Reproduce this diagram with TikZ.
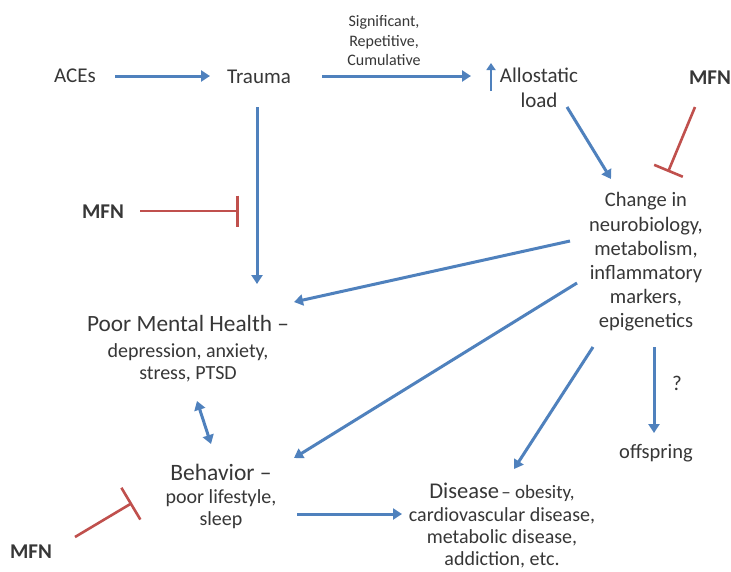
\documentclass[tikz,border=0pt]{standalone}
\usepackage{fontspec}
\setmainfont{Carlito}
\usetikzlibrary{arrows.meta}
\definecolor{ablue}{RGB}{79,129,189}
\definecolor{ared}{RGB}{192,80,77}
\definecolor{txt}{RGB}{55,55,55}
\begin{document}
\begin{tikzpicture}[x=1pt,y=-1pt,
  lbl/.style={text=txt,inner sep=0pt,align=center},
  conn/.style={draw=ablue,line width=3pt,-{Triangle[length=9pt,width=11pt]}},
  both/.style={draw=ablue,line width=3pt,{Triangle[length=9pt,width=11pt]}-{Triangle[length=9pt,width=11pt]}},
  inhib/.style={draw=ared,line width=2.6pt,-{Bar[width=#1]}},
  fmid/.style={font=\fontsize{21}{25}\selectfont},
  fbig/.style={font=\fontsize{23.3}{26}\selectfont},
  fsub/.style={font=\fontsize{20}{21.5}\selectfont},
  fmfn/.style={font=\fontsize{21}{25}\selectfont\bfseries},
]
\useasboundingbox[fill=white] (0,0) rectangle (731,571);

% nodes
\node[lbl,fmid] (aces) at (75,76) {ACEs};
\node[lbl,fmid] (trauma) at (259,77) {Trauma};
\node[lbl,font=\fontsize{16}{19.5}\selectfont] (sig) at (384,41) {Significant,\\Repetitive,\\Cumulative};
\node[lbl,fmid] (allo) at (539,88) {Allostatic\\load};
\node[lbl,fmfn] (mfnA) at (710,78) {MFN};
\node[lbl,font=\fontsize{20.5}{24.2}\selectfont] (change) at (646,262) {Change in\\neurobiology,\\metabolism,\\inflammatory\\markers,\\epigenetics};
\node[lbl,fmfn] (mfnB) at (103,212) {MFN};
\node[lbl,fbig] (pmh) at (188,323) {Poor Mental Health –};
\node[lbl,fsub] (pmhsub) at (188,363) {depression, anxiety,\\stress, PTSD};
\node[lbl,font=\fontsize{23.5}{26}\selectfont] (beh) at (221,472) {Behavior –};
\node[lbl,fsub] (behsub) at (221,509) {poor lifestyle,\\sleep};
\node[lbl,anchor=base] (dis) at (502,498) {{\fontsize{22.5}{26}\selectfont Disease} {\fontsize{19}{22}\selectfont – obesity,}};
\node[lbl,font=\fontsize{20}{22}\selectfont] (dissub) at (502,538) {cardiovascular disease,\\metabolic disease,\\addiction, etc.};
\node[lbl,font=\fontsize{20.5}{24}\selectfont] (off) at (656,453) {offspring};
\node[lbl,font=\fontsize{21}{24}\selectfont] (q) at (677,383) {?};
\node[lbl,fmfn] (mfnC) at (31,552) {MFN};

% connector end points
\coordinate (acesE) at (115,76);
\coordinate (traumaW) at (210,76);
\coordinate (traumaE) at (322,76);
\coordinate (alloW) at (471,76);
\coordinate (upB) at (491,91);
\coordinate (upT) at (491,63);
\coordinate (traumaS) at (257,107);
\coordinate (pmhN) at (257,284);
\coordinate (alloS) at (567,107);
\coordinate (changeN) at (611,179);
\coordinate (chA) at (570,241);
\coordinate (pmhE) at (294,302);
\coordinate (chB) at (577,283);
\coordinate (behE) at (294,458);
\coordinate (chC) at (593,347);
\coordinate (disN) at (514,469);
\coordinate (chD) at (654,347);
\coordinate (offN) at (654,433);
\coordinate (pmhS) at (197,401);
\coordinate (behN) at (211,444);
\coordinate (behSE) at (297,514);
\coordinate (disW) at (402,514);
\coordinate (mfnAS) at (695,107);
\coordinate (chNE) at (668,172);
\coordinate (mfnBE) at (140,211);
\coordinate (trauV) at (239,211);
\coordinate (mfnCE) at (75,537);
\coordinate (behW) at (132,503);

% connectors
\draw[conn] (acesE) -- (traumaW);
\draw[conn] (traumaE) -- (alloW);
\draw[draw=ablue,line width=2.6pt,-{Triangle[length=7pt,width=9pt]}] (upB) -- (upT);
\draw[conn] (traumaS) -- (pmhN);
\draw[conn] (alloS) -- (changeN);
\draw[conn] (chA) -- (pmhE);
\draw[conn] (chB) -- (behE);
\draw[conn] (chC) -- (disN);
\draw[conn] (chD) -- (offN);
\draw[both] (pmhS) -- (behN);
\draw[conn] (behSE) -- (disW);
\draw[inhib=31pt] (mfnAS) -- (chNE);
\draw[inhib=31pt] (mfnBE) -- (trauV);
\draw[inhib=37pt] (mfnCE) -- (behW);
\end{tikzpicture}
\end{document}
